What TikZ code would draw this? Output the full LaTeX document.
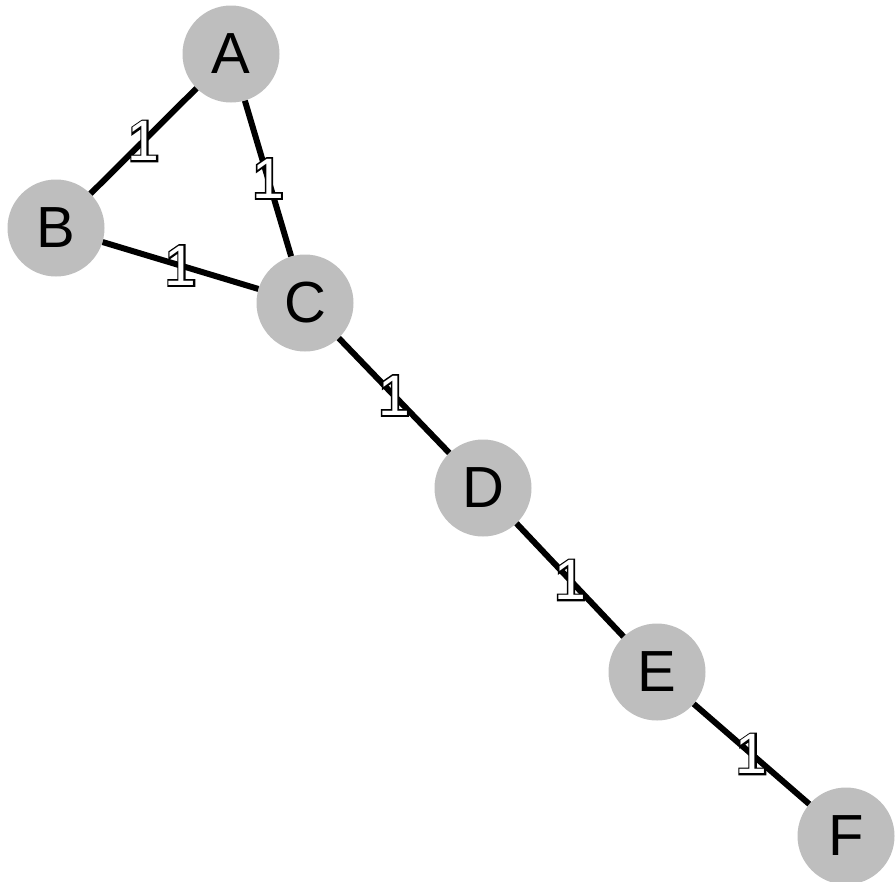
\documentclass[tikz,border=0pt]{standalone}
\usepackage{fontspec}
\setmainfont{Liberation Sans}
\newfontfamily\heavyfont{Liberation Sans}[FakeBold=6]
\definecolor{nodegray}{RGB}{190,190,190}
\begin{document}
\begin{tikzpicture}[x=1pt,y=-1pt,
  vert/.style={circle,fill=nodegray,minimum size=97pt,inner sep=0pt,font=\fontsize{58}{58}\selectfont},
  edge/.style={line width=6pt,black},
  wback/.style={inner sep=0pt,text=black,font=\heavyfont\fontsize{57}{57}\selectfont},
  wfront/.style={inner sep=0pt,text=white,font=\fontsize{57}{57}\selectfont}]
\useasboundingbox (0,0) rectangle (896,881);
\node[vert] (A) at (231,54) {A};
\node[vert] (B) at (56,228) {B};
\node[vert] (C) at (305,303) {C};
\node[vert] (D) at (483,488) {D};
\node[vert] (E) at (657,672) {E};
\node[vert] (F) at (846,836) {F};
\draw[edge] (A) -- node[wback] (bAB) {1} node[wfront] (lAB) {1} (B);
\draw[edge] (A) -- node[wback] (bAC) {1} node[wfront] (lAC) {1} (C);
\draw[edge] (B) -- node[wback] (bBC) {1} node[wfront] (lBC) {1} (C);
\draw[edge] (C) -- node[wback] (bCD) {1} node[wfront] (lCD) {1} (D);
\draw[edge] (D) -- node[wback] (bDE) {1} node[wfront] (lDE) {1} (E);
\draw[edge] (E) -- node[wback] (bEF) {1} node[wfront] (lEF) {1} (F);
\end{tikzpicture}
\end{document}
